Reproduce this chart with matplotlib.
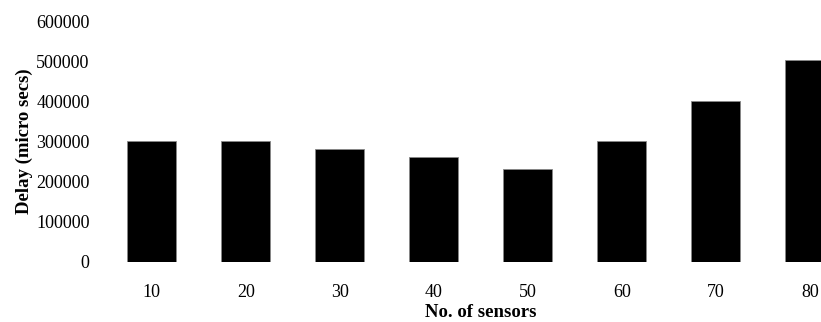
import matplotlib
matplotlib.use("Agg")
import matplotlib.pyplot as plt

categories = ["10", "20", "30", "40", "50", "60", "70", "80"]
delay = [300000, 300000, 280000, 262000, 232000, 300000, 402000, 502000]
yticks = [0, 100000, 200000, 300000, 400000, 500000, 600000]

plt.rcParams['font.family'] = ['Liberation Serif', 'DejaVu Serif']

W, H = 821, 322
fig = plt.figure(figsize=(W / 100, H / 100), dpi=100)
left_px, right_px = 104.8, 856.8
bot_px, top_px = 261.7, 21.2
ax = fig.add_axes([left_px / W, (H - bot_px) / H, (right_px - left_px) / W, (bot_px - top_px) / H])

x = range(len(categories))
ax.bar(x, delay, width=0.52, color="black", edgecolor="#888888", linewidth=0.6)
ax.set_xlim(-0.5, len(categories) - 0.5)
ax.set_ylim(0, 600000)
ax.set_xticks(list(x))
ax.set_xticklabels(categories, fontsize=13)
ax.set_yticks(yticks)
ax.set_yticklabels([str(v) for v in yticks], fontsize=13)
ax.tick_params(axis='both', length=0)
ax.tick_params(axis='x', pad=16)
ax.tick_params(axis='y', pad=11)
for s in ax.spines.values():
    s.set_visible(False)
ax.set_xlabel("No. of sensors", fontsize=13.5, fontweight='bold', labelpad=2)
ax.set_ylabel("Delay (micro secs)", fontsize=13.5, fontweight='bold', labelpad=2)

fig.savefig("out.png", dpi=100)
